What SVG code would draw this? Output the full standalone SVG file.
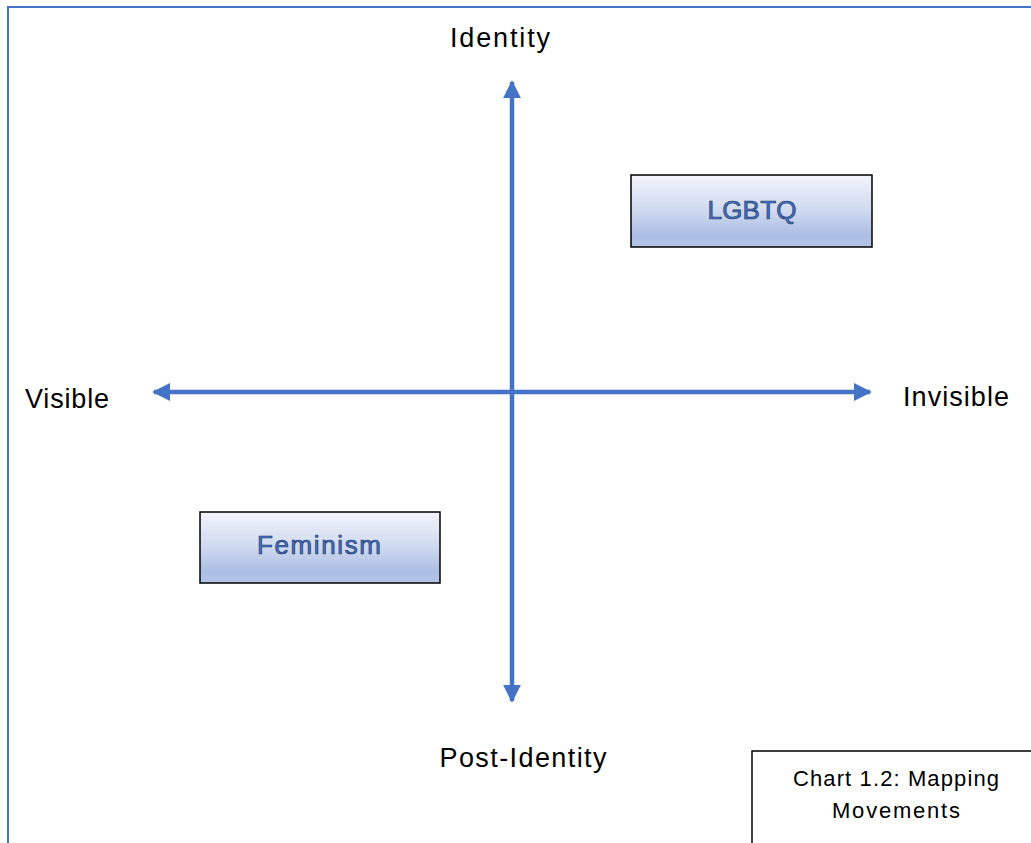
<svg xmlns="http://www.w3.org/2000/svg" width="1031" height="843" viewBox="0 0 1031 843">
<style>
.lbl{font-family:"Liberation Sans",Arial,sans-serif;font-size:27px;fill:#000;text-anchor:middle}
.node{stroke:#000;stroke-width:1.5;fill:url(#g)}
.nt{font-family:"Liberation Sans",Arial,sans-serif;font-size:26px;fill:#4472c4;stroke:#1f3864;stroke-width:0.7;text-anchor:middle}
.ax{stroke:#4472c4;stroke-width:4.5;fill:none}
.cap{font-family:"Liberation Sans",Arial,sans-serif;font-size:22px;fill:#000;text-anchor:middle}
</style>
<defs>
<linearGradient id="g" x1="0" y1="0" x2="0" y2="1">
<stop offset="0" stop-color="#f2f4fb"/>
<stop offset="0.5" stop-color="#cfd9ef"/>
<stop offset="0.85" stop-color="#aabde3"/>
<stop offset="1" stop-color="#b5c6e8"/>
</linearGradient>
<marker id="ah" viewBox="0 0 10 10" refX="9" refY="5" markerWidth="4" markerHeight="4" orient="auto-start-reverse" markerUnits="strokeWidth">
<path d="M0,0 L10,5 L0,10 z" fill="#4472c4"/>
</marker>
</defs>
<rect width="1031" height="843" fill="#fff"/>
<path d="M8,843 V7 H1031" fill="none" stroke="#4472c4" stroke-width="2"/>
<g id="connectors">
<line class="ax" x1="512" y1="82" x2="512" y2="701" marker-start="url(#ah)" marker-end="url(#ah)"/>
<line class="ax" x1="154" y1="392" x2="870" y2="392" marker-start="url(#ah)" marker-end="url(#ah)"/>
</g>
<g id="label-identity"><text class="lbl" x="500" y="47" textLength="100">Identity</text></g>
<g id="label-visible"><text class="lbl" x="67" y="408" textLength="84">Visible</text></g>
<g id="label-invisible"><text class="lbl" x="956" y="406" textLength="106">Invisible</text></g>
<g id="label-postidentity"><text class="lbl" x="523" y="767" textLength="167">Post-Identity</text></g>
<g id="node-lgbtq">
<rect class="node" x="631" y="175" width="241" height="72"/>
<text class="nt" x="752" y="219" textLength="89">LGBTQ</text>
</g>
<g id="node-feminism">
<rect class="node" x="200" y="512" width="240" height="71"/>
<text class="nt" x="319" y="554" textLength="124">Feminism</text>
</g>
<g id="caption">
<path d="M752,843 V751 H1031" fill="none" stroke="#000" stroke-width="1.5"/>
<text class="cap" x="896" y="786" textLength="206">Chart 1.2: Mapping</text>
<text class="cap" x="896" y="818" textLength="128">Movements</text>
</g>
</svg>
